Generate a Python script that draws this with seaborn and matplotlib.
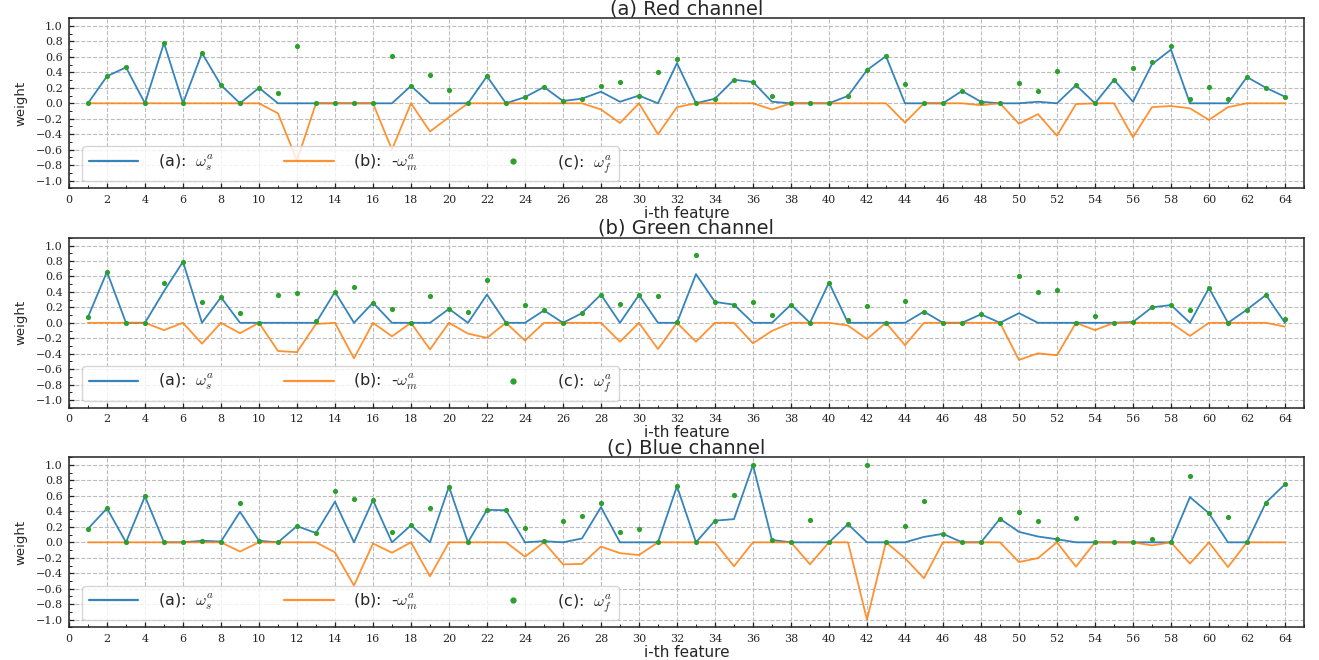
import numpy as np
import pandas as pd
import matplotlib
matplotlib.use('Agg')
import matplotlib.pyplot as plt
import seaborn as sns
from matplotlib.ticker import MultipleLocator, FuncFormatter
from matplotlib.lines import Line2D

# ---------------- data ----------------
features = list(range(1, 65))
titles = ['(a) Red channel', '(b) Green channel', '(c) Blue channel']
legend_labels = [r'(a):  $\omega_s^a$', r'(b):  -$\omega_m^a$', r'(c):  $\omega_f^a$']
xlabel_text = 'i-th feature'
ylabel_text = 'weight'

# Red channel
ws_red = [0, 0.35, 0.465, 0, 0.78, 0, 0.65, 0.235, 0, 0.2,
          0, 0, 0, 0, 0, 0, 0, 0.225, 0, 0,
          0, 0.35, 0, 0.08, 0.21, 0.03, 0.06, 0.15, 0.02, 0.1,
          0, 0.52, 0, 0.06, 0.305, 0.275, 0.02, 0, 0, 0,
          0.095, 0.43, 0.61, 0, 0, 0, 0.16, 0.02, 0, 0,
          0.02, 0, 0.235, 0, 0.305, 0.02, 0.505, 0.695, 0, 0,
          0, 0.34, 0.2, 0.085]
wm_red = [0, 0, 0, 0, 0, 0, 0, 0, 0, 0,
          -0.13, -0.74, 0, 0, 0, 0, -0.6, 0, -0.365, -0.18,
          0, 0, 0, 0, 0, 0, 0, -0.08, -0.255, 0,
          -0.4, -0.05, 0, 0, 0, 0, -0.08, 0, 0, 0,
          0, 0, 0, -0.25, 0, 0, 0, -0.025, 0, -0.265,
          -0.14, -0.42, -0.01, 0, 0, -0.44, -0.05, -0.035, -0.065, -0.215,
          -0.05, 0, 0, 0]
wf_red = [0, 0.35, 0.465, 0, 0.78, 0, 0.65, 0.235, 0, 0.2,
          0.135, 0.745, 0, 0, 0, 0, 0.61, 0.225, 0.37, 0.175,
          0, 0.35, 0, 0.08, 0.21, 0.025, 0.06, 0.225, 0.28, 0.1,
          0.4, 0.575, 0, 0.06, 0.305, 0.275, 0.1, 0, 0, 0,
          0.095, 0.43, 0.61, 0.25, 0, 0, 0.16, 0.02, 0, 0.265,
          0.155, 0.42, 0.235, 0, 0.305, 0.46, 0.54, 0.735, 0.06, 0.215,
          0.05, 0.34, 0.2, 0.085]

# Green channel
ws_green = [0.075, 0.66, 0, 0, 0.41, 0.79, 0, 0.33, 0, 0,
            0, 0, 0, 0.4, 0, 0.26, 0, 0, 0, 0.18,
            0, 0.365, 0, 0, 0.16, 0, 0.125, 0.365, 0, 0.36,
            0, 0, 0.63, 0.27, 0.235, 0, 0, 0.235, 0, 0.52,
            0, 0, 0, 0, 0.145, 0, 0, 0.11, 0, 0.125,
            0, 0, 0, 0, 0, 0.01, 0.2, 0.23, 0, 0.45,
            0, 0.17, 0.36, 0.0]
wm_green = [0, 0, 0, 0, -0.095, 0, -0.27, 0, -0.135, 0,
            -0.365, -0.38, -0.015, 0, -0.46, 0, -0.175, 0, -0.345, 0,
            -0.14, -0.195, 0, -0.23, 0, 0, 0, 0, -0.245, 0,
            -0.34, 0, -0.245, 0, 0, -0.265, -0.105, 0, 0, 0,
            -0.035, -0.21, 0, -0.29, 0, 0, 0, 0, 0, -0.48,
            -0.395, -0.42, 0, -0.095, 0, 0, 0, 0, -0.17, 0,
            0, 0, 0, -0.05]
wf_green = [0.075, 0.66, 0, 0, 0.51, 0.79, 0.27, 0.33, 0.13, 0,
            0.365, 0.385, 0.02, 0.4, 0.46, 0.26, 0.175, 0, 0.345, 0.18,
            0.145, 0.56, 0, 0.23, 0.16, 0, 0.125, 0.365, 0.245, 0.36,
            0.345, 0.01, 0.88, 0.27, 0.235, 0.27, 0.105, 0.235, 0, 0.52,
            0.035, 0.22, 0, 0.285, 0.145, 0, 0, 0.11, 0, 0.605,
            0.395, 0.42, 0, 0.09, 0, 0.01, 0.2, 0.23, 0.17, 0.45,
            0, 0.17, 0.36, 0.05]

# Blue channel
ws_blue = [0.175, 0.44, 0, 0.595, 0, 0, 0.02, 0.01, 0.395, 0.02,
           0, 0.21, 0.12, 0.525, 0, 0.545, 0, 0.22, 0, 0.72,
           0, 0.42, 0.415, 0, 0.015, 0, 0.05, 0.455, 0, 0,
           0, 0.725, 0, 0.28, 0.3, 1.0, 0.03, 0, 0, 0,
           0.235, 0, 0, 0, 0.07, 0.11, 0, 0, 0.305, 0.135,
           0.075, 0.04, 0, 0, 0, 0, 0, 0, 0.585, 0.375,
           0, 0, 0.515, 0.75]
wm_blue = [0, 0, 0, 0, 0, 0, 0, 0, -0.12, 0,
           0, 0, 0, -0.13, -0.56, -0.015, -0.135, 0, -0.44, 0,
           0, 0, 0, -0.185, 0, -0.285, -0.28, -0.055, -0.14, -0.165,
           0, 0, 0, 0, -0.31, 0, 0, 0, -0.285, 0,
           0, -1.0, 0, -0.205, -0.465, 0, 0, 0, 0, -0.255,
           -0.205, 0, -0.315, 0, 0, 0, -0.04, 0, -0.275, 0,
           -0.32, 0, 0, 0]
wf_blue = [0.175, 0.44, 0, 0.595, 0, 0, 0.02, 0, 0.515, 0.02,
           0, 0.21, 0.12, 0.66, 0.56, 0.545, 0.135, 0.22, 0.44, 0.72,
           0, 0.42, 0.415, 0.185, 0.015, 0.28, 0.335, 0.51, 0.135, 0.17,
           0, 0.725, 0, 0.28, 0.615, 1.0, 0.03, 0, 0.29, 0,
           0.235, 1.0, 0, 0.205, 0.535, 0.11, 0, 0, 0.305, 0.395,
           0.275, 0.04, 0.315, 0, 0, 0, 0.045, 0, 0.855, 0.375,
           0.325, 0, 0.515, 0.75]

panels = [(ws_red, wm_red, wf_red), (ws_green, wm_green, wf_green), (ws_blue, wm_blue, wf_blue)]

# ---------------- style ----------------
sns.set_style('ticks')
plt.rcParams['font.family'] = ['DejaVu Serif']
plt.rcParams['mathtext.fontset'] = 'cm'

c_s, c_m, c_f = '#1f77b4', '#ff7f0e', '#2ca02c'

fig = plt.figure(figsize=(13.19, 6.60), dpi=100)
gs = fig.add_gridspec(3, 1, left=0.0523, right=0.9886, top=0.9723, bottom=0.0495, hspace=0.291)


def yfmt(v, pos):
    s = f'{round(v, 1):.1f}'
    if s == '-0.0':
        s = '0.0'
    return s.replace('-', '\u2212')


for i, (ws, wm, wf) in enumerate(panels):
    ax = fig.add_subplot(gs[i])
    df = pd.DataFrame({'feature': features, 'ws': ws, 'wm': wm, 'wf': wf})
    sns.lineplot(data=df, x='feature', y='ws', ax=ax, color=c_s, lw=1.3, alpha=0.9, legend=False, zorder=2)
    sns.lineplot(data=df, x='feature', y='wm', ax=ax, color=c_m, lw=1.3, alpha=0.85, legend=False, zorder=2.1)
    sns.scatterplot(data=df, x='feature', y='wf', ax=ax, color=c_f, s=14, linewidth=0, legend=False, zorder=3)

    ax.set_xlim(0, 65)
    ax.set_ylim(-1.1, 1.1)
    ax.xaxis.set_major_locator(MultipleLocator(2))
    ax.xaxis.set_minor_locator(MultipleLocator(1))
    ax.yaxis.set_major_locator(MultipleLocator(0.2))
    ax.yaxis.set_minor_locator(MultipleLocator(0.1))
    ax.yaxis.set_major_formatter(FuncFormatter(yfmt))
    ax.tick_params(which='both', direction='in', labelsize=8, pad=4.5, color='#222222')
    ax.tick_params(which='major', length=3.5, width=0.9)
    ax.tick_params(which='minor', length=2, width=0.7)
    ax.grid(True, which='major', linestyle='--', color='#bdbdbd', linewidth=0.8)
    for sp in ax.spines.values():
        sp.set_visible(True)
        sp.set_color('#222222')
        sp.set_linewidth(1.1)

    ax.set_title(titles[i], fontsize=14, fontfamily='DejaVu Sans', pad=2)
    ax.set_xlabel(xlabel_text, fontsize=11, fontfamily='DejaVu Sans', labelpad=1)
    ax.set_ylabel(ylabel_text, fontsize=9.5, family=['Liberation Sans Narrow', 'DejaVu Sans'], labelpad=6)

    handles = [Line2D([], [], color=c_s, lw=1.6, alpha=0.9),
               Line2D([], [], color=c_m, lw=1.6, alpha=0.85),
               Line2D([], [], color=c_f, marker='o', markersize=3.5, linestyle='none')]
    ax.legend(handles, legend_labels, loc='lower left', bbox_to_anchor=(0.0109, 0.041),
              borderaxespad=0, ncol=3, prop={'family': 'DejaVu Sans', 'size': 11.5},
              handlelength=3.1, handletextpad=1.2, columnspacing=4.4,
              frameon=True, fancybox=True, framealpha=0.8, edgecolor='#cccccc')

fig.savefig('out.png', dpi=100)
